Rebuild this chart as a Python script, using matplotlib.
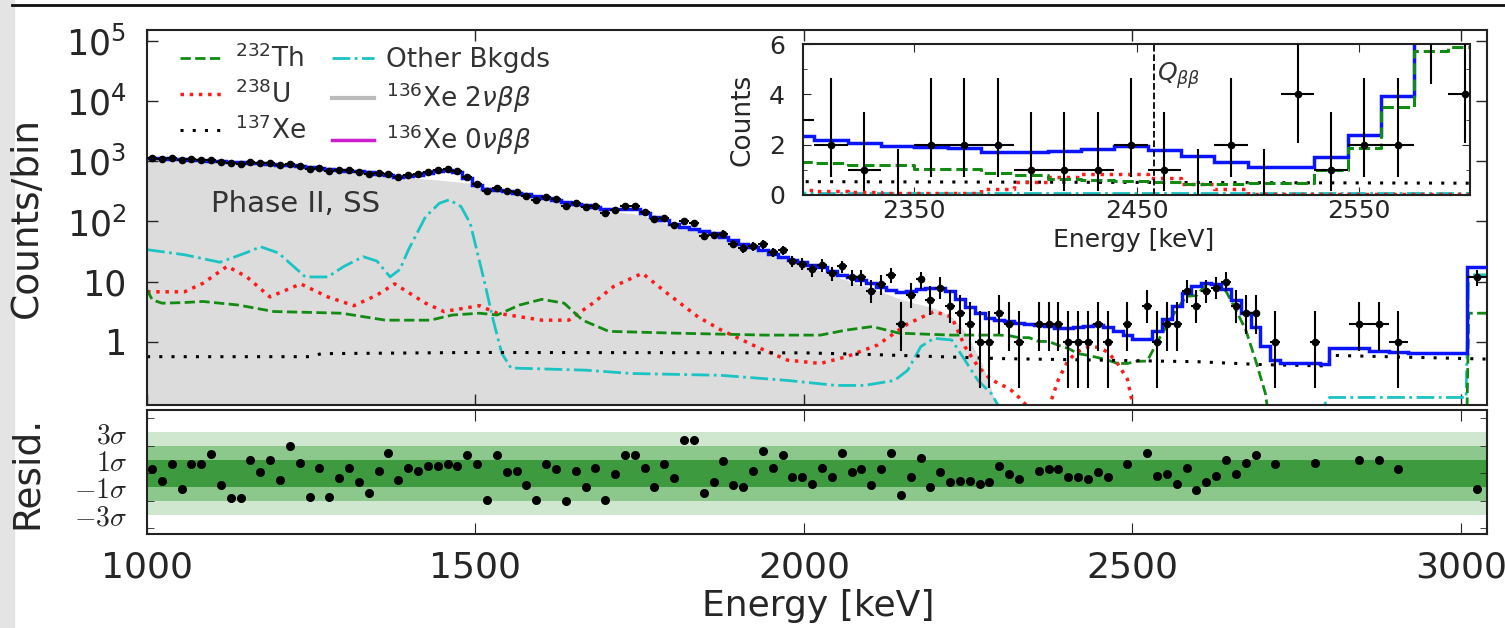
import numpy as np
import matplotlib
matplotlib.use("Agg")
import matplotlib.pyplot as plt
from matplotlib.lines import Line2D
from matplotlib.patches import Rectangle
from matplotlib.ticker import FixedLocator, FixedFormatter, LogLocator, NullFormatter

nan = np.nan

# ---------------- binning ----------------
fine_edges = np.arange(1000.0, 2800.1, 15.0)          # 15 keV bins up to 2800 keV
coarse_edges = [2800, 2830, 2860, 2890, 2920, 2950, 2980, 3010, 3040]

# ---------------- total model (counts / bin) ----------------
total_fine = [
    1130, 1110, 1100, 1085, 1060, 1040, 1020, 1000, 980, 960,
    940, 920, 905, 880, 850, 820, 790, 760, 740, 720,
    700, 680, 655, 620, 585, 555, 570, 600, 640, 690,
    720, 660, 520, 400, 350, 330, 315, 300, 280, 262,
    245, 228, 212, 198, 185, 172, 160, 158, 163, 160,
    140, 120, 105, 90, 80, 75, 70, 65, 56, 49,
    43, 38, 33, 29, 26, 23, 21, 19, 17.5, 15,
    13, 11.8, 10.8, 9.5, 8.3, 7.3, 6.8, 7.0, 7.6, 7.9,
    7.8, 6.9, 5.2, 3.8, 3.0, 2.5, 2.35, 2.2, 2.05, 1.95,
    1.9, 1.85, 1.72, 1.7, 1.76, 1.82, 1.93, 1.8, 1.55, 1.32,
    1.12, 1.12, 1.5, 2.38, 3.95, 6.5, 8.5, 9.4, 9.0, 7.5,
    5.0, 3.0, 1.8, 0.85, 0.5, 0.45, 0.45, 0.44, 0.44, 0.43,
]
total_coarse = [0.8, 0.79, 0.7, 0.69, 0.66, 0.66, 0.65, 17.5]

# ---------------- data (counts / bin) ----------------
data_fine = [
    1140, 1092, 1122, 1049, 1082, 1062, 1064, 973, 925, 905,
    971, 922, 935, 865, 907, 842, 743, 771, 694, 712,
    711, 664, 618, 625, 621, 543, 580, 605, 653, 704,
    738, 674, 551, 413, 314, 355, 316, 303, 266, 231,
    255, 233, 183, 201, 171, 177, 136, 157, 180, 177,
    145, 109, 112, 87, 101, 96, 58, 60, 63, 43,
    36, 39, 42, 31, 33, 22, 20, 16, 19, 14,
    18, 12, 12, 7, 9, 13, 2, 6, 11, 5,
    8, 4, 3, 2, 1, 1, 3, 2, 1, 0,
    2, 2, 2, 1, 1, 1, 2, 1, 0, 2,
    0, 4, 1, 2, 2, 7, 4, 7, 8, 10,
    4, 3, 3, 0, 1, 0, 0, 0, 1, 0,
]
data_coarse = [0, 2, 2, 1, 0, 0, 0, 12]

# ---------------- residuals (sigma) ----------------
resid_fine = [
    0.29, -0.53, 0.67, -1.1, 0.67, 0.67, 1.39, -0.86, -1.77, -1.77,
    1.0, 0.07, 1.0, -0.5, 1.97, 0.77, -1.68, 0.41, -1.68, -0.31,
    0.41, -0.62, -1.46, 0.19, 1.49, -0.5, 0.41, 0.19, 0.53, 0.53,
    0.67, 0.53, 1.37, 0.65, -1.92, 1.37, 0.07, 0.19, -0.86, -1.92,
    0.67, 0.31, -2.0, 0.19, -1.0, 0.41, -1.92, -0.05, 1.37, 1.37,
    0.41, -1.0, 0.67, -0.31, 2.4, 2.4, -1.46, -0.62, 0.89, -0.86,
    -1.0, 0.19, 1.6, 0.41, 1.37, -0.29, -0.29, -0.77, 0.41, -0.29,
    1.49, 0.07, 0.29, -0.86, 0.29, 1.49, -1.56, -0.29, 1.13, -0.98,
    0.07, -0.62, -0.53, -0.53, -0.74, -0.62, 0.55, -0.05, -0.41, nan,
    0.19, 0.31, 0.31, -0.29, -0.29, -0.41, 0.07, -0.29, nan, 0.65,
    nan, 1.49, -0.17, -0.05, -0.74, 0.41, -1.22, -0.62, -0.17, 1.0,
    -0.05, 0.77, 1.37, nan, 0.65, nan, nan, nan, 0.77, nan,
]
resid_coarse = [nan, 1.0, 1.0, 0.29, nan, nan, nan, -1.1]

# Poisson 68% intervals (Gehrels) for small counts
pois_lo = [0.0, 0.827, 1.292, 1.633, 1.914, 2.159, 2.380, 2.581, 2.768, 2.943, 3.108]
pois_hi = [1.841, 2.299, 2.637, 2.918, 3.162, 3.382, 3.583, 3.770, 3.944, 4.110, 4.266]

# ---------------- background components ----------------
th_E = [1000, 1008, 1023, 1055, 1085, 1139, 1193, 1245, 1296, 1363, 1431, 1465, 1506,
        1533, 1567, 1601, 1635, 1663, 1703, 1805, 1941, 2025, 2065, 2104, 2145, 2225,
        2282.5, 2297.5, 2312.5, 2327.5, 2342.5, 2357.5, 2372.5, 2387.5, 2402.5, 2417.5,
        2432.5, 2447.5, 2462.5, 2477.5, 2492.5, 2507.5, 2522.5, 2537.5, 2552.5, 2567.5,
        2582.5, 2597.5, 2612.5, 2627.5, 2642.5, 2657.5, 2672.5, 2687.5, 2702.5, 2717.5,
        3008, 3012, 3040]
th_val = [7.3, 5.0, 4.4, 4.5, 4.7, 4.1, 3.2, 3.1, 3.0, 2.3, 2.3, 2.8, 3.0,
          2.8, 4.1, 5.1, 4.4, 2.3, 1.5, 1.4, 1.3, 1.3, 1.58, 1.8, 1.4, 1.3,
          1.3, 1.3, 1.27, 1.18, 1.18, 1.02, 1.02, 0.88, 0.78, 0.64,
          0.6, 0.55, 0.5, 0.44, 0.44, 0.48, 0.48, 0.98, 1.87, 3.5,
          5.73, 5.9, 9.0, 9.0, 7.0, 3.4, 1.6, 0.5, 0.14, 0.01,
          0.01, 3.0, 3.0]

u_E = [1000, 1057, 1085, 1122, 1152, 1187, 1234, 1275, 1315, 1350, 1377, 1424, 1452,
       1506, 1533, 1601, 1642, 1680, 1710, 1754, 1792, 1839, 1873, 1927, 1975, 2025,
       2065, 2112, 2158, 2198, 2225, 2245, 2265,
       2282.5, 2297.5, 2312.5, 2327.5, 2342.5, 2357.5, 2372.5, 2387.5, 2402.5, 2417.5,
       2432.5, 2447.5, 2462.5, 2477.5, 2492.5, 2507.5, 2522.5, 2537.5, 2552.5, 2567.5,
       2582.5, 2597.5, 2612.5, 3040]
u_val = [6.8, 6.8, 9.4, 18, 12, 5.6, 9.2, 5.6, 4.0, 6.0, 9.2, 4.4, 3.2,
         4.0, 3.0, 2.3, 2.3, 4.5, 8.3, 13.8, 6.4, 2.6, 1.6, 0.84, 0.5, 0.44,
         0.57, 0.89, 2.0, 3.2, 2.6, 0.84, 0.39,
         0.25, 0.2, 0.17, 0.12, 0.08, 0.08, 0.08, 0.24, 0.5, 0.7,
         0.82, 0.82, 0.68, 0.44, 0.24, 0.04, 0.02, 0.02, 0.02, 0.02,
         0.02, 0.02, 0.02, 0.02]

xe137_E = [1000, 1250, 1265, 1500, 2000, 2100, 2300, 2450, 2600, 2700, 2798, 2802, 3040]
xe137_val = [0.57, 0.57, 0.64, 0.67, 0.66, 0.62, 0.53, 0.5, 0.47, 0.42, 0.40, 0.6, 0.52]

other_E = [1000, 1057, 1111, 1150, 1173, 1200, 1241, 1275, 1300, 1329, 1350, 1370, 1385,
           1398, 1424, 1445, 1460, 1478, 1492, 1513, 1527, 1540, 1554, 1669, 1737, 1873,
           1975, 2049, 2092, 2138, 2158, 2178, 2198, 2225, 2245, 2265, 2285, 2305, 2780,
           2800, 3008, 3012, 3040]
other_val = [34, 28, 21, 30, 38, 30, 12, 12, 18, 26, 22, 12, 16,
             34, 120, 200, 229, 176, 93, 10.7, 2.3, 0.65, 0.37, 0.34, 0.30, 0.28,
             0.23, 0.19, 0.19, 0.23, 0.34, 0.84, 1.15, 1.08, 0.5, 0.23, 0.14, 0.06, 0.06,
             0.12, 0.12, 13, 13]

bb2n_E = [1000, 1050, 1100, 1150, 1200, 1250, 1300, 1350, 1400, 1450, 1500, 1550, 1600,
          1650, 1700, 1750, 1800, 1850, 1900, 1950, 2000, 2050, 2100, 2150, 2200, 2225,
          2245, 2265, 2280, 2300]
bb2n_val = [1080, 1040, 970, 900, 840, 760, 690, 600, 530, 480, 420, 310, 245,
            195, 150, 130, 85, 66, 44, 28, 19, 12, 8, 5, 3.6, 2.6,
            1.5, 0.6, 0.25, 0.05]

bb0n_E = [1000, 3040]
bb0n_val = [0.012, 0.012]

Q_BB = 2458

# ---------------- assemble ----------------
edges = np.concatenate([fine_edges, np.array(coarse_edges[1:], float)])
centers = 0.5 * (edges[:-1] + edges[1:])
halfw = 0.5 * np.diff(edges)
total = np.array(total_fine + total_coarse, float)
counts = np.array(data_fine + data_coarse, int)
resid = np.array(resid_fine + resid_coarse, float)

err_lo = np.array([pois_lo[n] if n < len(pois_lo) else np.sqrt(n) for n in counts])
err_hi = np.array([pois_hi[n] if n < len(pois_hi) else np.sqrt(n) for n in counts])

C_TH = '#138a13'
C_U = '#ff1a1a'
C_OT = '#1cc3c3'
C_BL = '#0a14ff'
C_MG = '#cc1ccc'
C_GR = '#dcdcdc'
C_TXT = '#262626'

fig = plt.figure(figsize=(15.05, 6.28), dpi=100)
fig.patch.set_facecolor('white')
fig.add_artist(Rectangle((0, 0), 0.009, 1, transform=fig.transFigure,
                         color='#e4e4e4', zorder=0))
fig.add_artist(Line2D([0.008, 1.0], [0.992, 0.992], transform=fig.transFigure,
                      color='#111111', lw=2))

ax = fig.add_axes([0.0977, 0.3551, 0.8904, 0.5971])
axr = fig.add_axes([0.0977, 0.1497, 0.8904, 0.1974])
axin = fig.add_axes([0.5336, 0.6895, 0.4432, 0.2404])

# ---------------- main panel ----------------
ax.fill_between(bb2n_E, 1e-3, bb2n_val, color=C_GR, lw=0, zorder=1)
ax.plot(other_E, other_val, color=C_OT, ls='-.', lw=2, zorder=2)
ax.plot(u_E, u_val, color=C_U, ls=':', lw=2.5, zorder=2)
ax.plot(th_E, th_val, color=C_TH, ls='--', lw=2, zorder=2)
ax.plot(xe137_E, xe137_val, color='k', ls=(0, (1, 3)), lw=2.2, zorder=2)
ax.plot(bb0n_E, bb0n_val, color=C_MG, lw=2, zorder=2)
ax.stairs(total, edges, color=C_BL, lw=2.5, baseline=None, zorder=4)
m = counts > 0
ax.errorbar(centers[m], counts[m], yerr=[err_lo[m], err_hi[m]], xerr=halfw[m],
            fmt='o', color='k', ms=4.5, elinewidth=1.5, capsize=0, zorder=5)

ax.set_xlim(1000, 3040)
ax.set_yscale('log')
ax.set_ylim(0.09, 1.5e5)
ax.yaxis.set_major_locator(FixedLocator([1, 10, 100, 1e3, 1e4, 1e5]))
ax.yaxis.set_major_formatter(FixedFormatter(['1', '10', r'$10^2$', r'$10^3$', r'$10^4$', r'$10^5$']))
ax.yaxis.set_minor_locator(LogLocator(base=10, subs=np.arange(2, 10)))
ax.yaxis.set_minor_formatter(NullFormatter())
ax.set_xticks([1000, 1500, 2000, 2500, 3000])
ax.tick_params(which='both', direction='in', top=True, right=True, labelbottom=False,
               colors=C_TXT)
ax.tick_params(axis='y', labelsize=25, pad=15)
ax.tick_params(which='major', length=8, width=1)
ax.tick_params(which='minor', length=4, width=1)
ax.set_ylabel('Counts/bin', fontsize=27, color=C_TXT)
ax.yaxis.set_label_coords(-0.076, 0.5)
ax.text(0.0478, 0.536, 'Phase II, SS', transform=ax.transAxes, fontsize=21,
        color='#333333', va='center', ha='left', zorder=6)

handles = [
    Line2D([], [], color=C_TH, ls='--', lw=2),
    Line2D([], [], color=C_U, ls=':', lw=2.5),
    Line2D([], [], color='k', ls=(0, (1, 3)), lw=2.2),
    Line2D([], [], color=C_OT, ls='-.', lw=2),
    Line2D([], [], color='#bbbbbb', lw=3),
    Line2D([], [], color=C_MG, lw=2.5),
]
labels = [r'$^{232}$Th', r'$^{238}$U', r'$^{137}$Xe', 'Other Bkgds',
          r'$^{136}$Xe 2$\nu\beta\beta$', r'$^{136}$Xe 0$\nu\beta\beta$']
leg = ax.legend(handles, labels, ncol=2, loc='upper left', bbox_to_anchor=(0.021, 0.975),
                frameon=False, fontsize=19, handlelength=1.6, handletextpad=0.45,
                columnspacing=1.0, labelspacing=0.28, borderaxespad=0, borderpad=0.2)
for t in leg.get_texts():
    t.set_color('#333333')

# ---------------- residual panel ----------------
axr.axhspan(-3, 3, color='#cfe7cf', lw=0, zorder=0)
axr.axhspan(-2, 2, color='#8cc78c', lw=0, zorder=0)
axr.axhspan(-1, 1, color='#3e9a3e', lw=0, zorder=0)
axr.plot(centers, resid, 'o', color='k', ms=5.5, zorder=3)
axr.set_xlim(1000, 3040)
axr.set_ylim(-4.4, 4.6)
axr.set_xticks([1000, 1500, 2000, 2500, 3000])
axr.set_yticks([-3, -1, 1, 3])
axr.set_yticklabels([r'$-3\sigma$', r'$-1\sigma$', r'$1\sigma$', r'$3\sigma$'])
axr.yaxis.set_minor_locator(FixedLocator([-4, -2, 0, 2, 4]))
axr.tick_params(which='both', direction='in', top=True, right=True, colors=C_TXT)
axr.tick_params(axis='x', labelsize=26, pad=12, length=8)
axr.tick_params(axis='y', labelsize=20, pad=14, length=0)
axr.tick_params(axis='y', which='minor', length=5)
for lab in axr.get_yticklabels():
    lab.set_math_fontfamily('cm')
axr.set_ylabel('Resid.', fontsize=27, color=C_TXT)
axr.yaxis.set_label_coords(-0.076, 0.5)
fig.text(818 / 1505, 1 - 606 / 628, 'Energy [keV]', ha='center', va='center',
         fontsize=26, color=C_TXT)

# ---------------- inset ----------------
axin.plot(other_E, other_val, color=C_OT, ls='-.', lw=2)
axin.plot(xe137_E, xe137_val, color='k', ls=(0, (1, 3)), lw=2.2)
axin.plot(u_E, u_val, color=C_U, ls=':', lw=2.5, drawstyle='steps-mid')
axin.plot(th_E, th_val, color=C_TH, ls='--', lw=2.2, drawstyle='steps-mid')
axin.plot(bb0n_E, bb0n_val, color=C_MG, lw=2)
axin.stairs(total, edges, color=C_BL, lw=2.5, baseline=None)
axin.errorbar(centers[m], counts[m], yerr=[err_lo[m], err_hi[m]], xerr=halfw[m],
              fmt='o', color='k', ms=4.5, elinewidth=1.5, capsize=0, zorder=5)
z = counts == 0
axin.vlines(centers[z], 0, err_hi[z], color='k', lw=1.5, zorder=5)
axin.axvline(Q_BB, color='k', ls='--', lw=1.3)
axin.text(Q_BB + 1, 4.75, r'$Q_{\beta\beta}$', fontsize=18, color='#333333',
          ha='left', va='center')
axin.set_xlim(2300, 2600)
axin.set_ylim(0, 6)
axin.set_xticks([2350, 2450, 2550])
axin.set_yticks([0, 2, 4, 6])
axin.yaxis.set_minor_locator(FixedLocator([1, 3, 5]))
axin.tick_params(which='both', direction='in', top=True, right=True, colors=C_TXT,
                 labelsize=18)
axin.tick_params(axis='y', pad=13)
axin.tick_params(axis='x', pad=3)
axin.tick_params(which='major', length=6)
axin.tick_params(which='minor', length=3)
axin.set_ylabel('Counts', fontsize=19, color=C_TXT)
axin.yaxis.set_label_coords(-0.072, 0.5)
axin.text(0.495, -0.30, 'Energy [keV]', transform=axin.transAxes, ha='center',
          va='center', fontsize=18, color=C_TXT)

for a in (ax, axr, axin):
    for s in a.spines.values():
        s.set_linewidth(1.5)
        s.set_color('#222222')

fig.savefig('out.png', dpi=100)
